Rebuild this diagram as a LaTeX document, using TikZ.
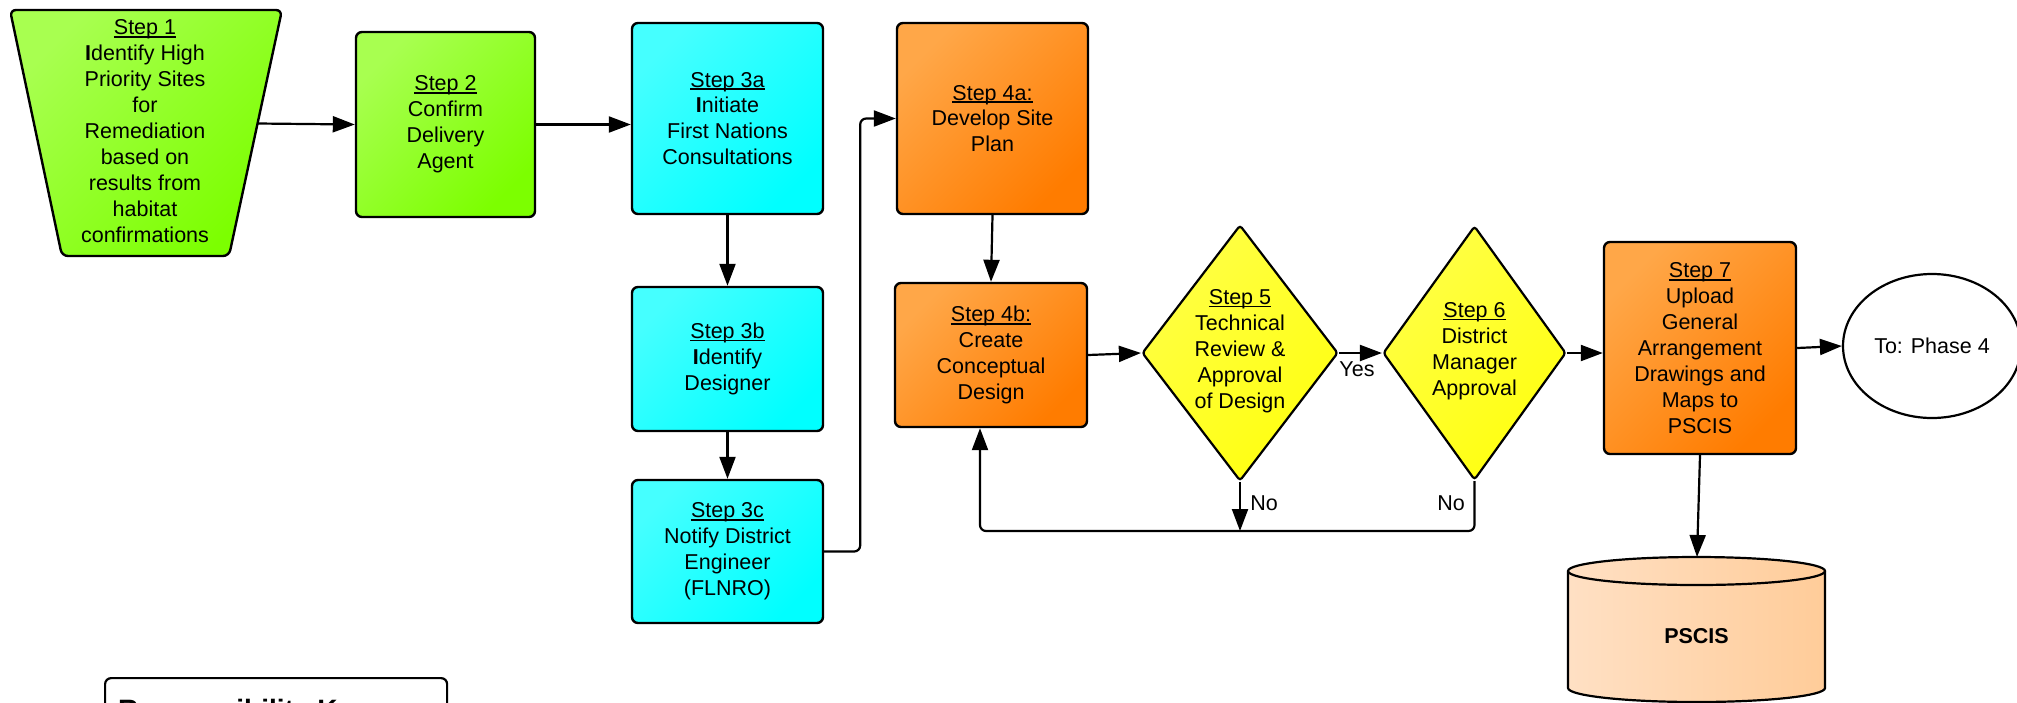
\documentclass[tikz,border=0pt]{standalone}
\usepackage{fontspec}
\setmainfont{Liberation Sans}
\usetikzlibrary{arrows.meta,shapes.geometric}
\definecolor{gA}{HTML}{A8FF50}
\definecolor{gB}{HTML}{7CFF00}
\definecolor{cA}{HTML}{45FFFF}
\definecolor{cB}{HTML}{00FFFF}
\definecolor{oA}{HTML}{FFA748}
\definecolor{oB}{HTML}{FF7C00}
\definecolor{yA}{HTML}{FFFF45}
\definecolor{yB}{HTML}{FFFF10}
\definecolor{pA}{HTML}{FFE0C4}
\definecolor{pB}{HTML}{FFCC99}
\newcommand\stepul[1]{\setbox0\hbox{#1}\rlap{\rule[-2.8pt]{\wd0}{1.4pt}}\box0}
\tikzset{
  txt/.style={font=\fontsize{21.5}{25.9}\selectfont, align=center, inner sep=0pt},
  box/.style={txt, draw, line width=2.4pt, rounded corners=6pt},
  grn/.style={top color=gA, bottom color=gB, shading angle=45},
  cyn/.style={top color=cA, bottom color=cB, shading angle=45},
  org/.style={top color=oA, bottom color=oB, shading angle=45},
  ylw/.style={top color=yA, bottom color=yB, shading angle=45},
  dia/.style={diamond, draw, line width=2.2pt, rounded corners=3pt, inner sep=0pt, ylw},
  arr/.style={line width=2.2pt, -{Triangle[length=22pt,width=16pt]}},
  lbl/.style={txt}
}
\begin{document}
\begin{tikzpicture}[x=1pt,y=-1pt]
\useasboundingbox (0,0) rectangle (2017,702);

% Step 1 trapezoid
\path[draw, line width=2.4pt, rounded corners=6pt, grn] (10,10) -- (282,10) -- (229,256) -- (62,256) -- cycle;
\node[txt] (s1) at (145,131) {\stepul{Step 1}\\\textbf{I}dentify High\\Priority Sites\\for\\Remediation\\based on\\results from\\habitat\\confirmations};
\coordinate (s1out) at (257.5,123.5);

% Step 2
\node[box, grn, minimum width=179pt, minimum height=185pt] (s2) at (445.5,124.5) {\stepul{Step 2}\\Confirm\\Delivery\\Agent};

% Step 3a,b,c
\node[box, cyn, minimum width=191pt, minimum height=191pt] (s3a) at (727.5,118.5) {\stepul{Step 3a}\\\textbf{I}nitiate\\First Nations\\Consultations};
\node[box, cyn, minimum width=191pt, minimum height=144pt] (s3b) at (727.5,359) {\stepul{Step 3b}\\\textbf{I}dentify\\Designer};
\node[box, cyn, minimum width=191pt, minimum height=143pt] (s3c) at (727.5,551.5) {\stepul{Step 3c}\\Notify District\\Engineer\\(FLNRO)};

% Step 4a,b
\node[box, org, minimum width=191pt, minimum height=191pt] (s4a) at (992.5,118.5) {\stepul{Step 4a:}\\Develop Site\\Plan};
\node[box, org, minimum width=192pt, minimum height=144pt] (s4b) at (991,355) {\stepul{Step 4b:}\\Create\\Conceptual\\Design};

% Step 5, 6 diamonds
\node[dia, minimum width=196pt, minimum height=256pt] (s5) at (1240,353) {};
\node[txt] (s5t) at (1240,351) {\stepul{Step 5}\\Technical\\Review \&\\Approval\\of Design};
\node[dia, minimum width=183pt, minimum height=254pt] (s6) at (1474.5,353) {};
\node[txt] (s6t) at (1474.5,351) {\stepul{Step 6}\\District\\Manager\\Approval};

% Step 7
\node[box, org, minimum width=192pt, minimum height=212pt] (s7) at (1700,348) {\stepul{Step 7}\\Upload\\General\\Arrangement\\Drawings and\\Maps to\\PSCIS};

% To: Phase 4
\node[txt, ellipse, draw, line width=2.2pt, fill=white, minimum width=178pt, minimum height=144pt] (ph4) at (1932,346) {To: Phase 4};

% PSCIS cylinder
\path[draw, line width=2.2pt, left color=pA, right color=pB]
  (1568,571) -- (1568,688) arc[start angle=180, end angle=0, x radius=128.5, y radius=14]
  -- (1825,571) arc[start angle=0, end angle=-180, x radius=128.5, y radius=14] -- cycle;
\draw[line width=2.2pt] (1568,571) arc[start angle=180, end angle=0, x radius=128.5, y radius=14];
\node[txt, font=\fontsize{21.5}{25.9}\selectfont\bfseries] (pscis) at (1696.5,636) {PSCIS};
\coordinate (pstop) at (1697,557);

% Responsibility key (cut by the page edge, as in the reference)
\node[draw, line width=2.2pt, rounded corners=6pt, anchor=north west, minimum width=342pt, minimum height=120pt] (key) at (104,677) {};
\node[anchor=base west, inner sep=0pt, font=\fontsize{28}{32}\selectfont\bfseries] (keyt) at (118,719) {Responsibility Key};

% connectors
\draw[arr] (s1out) -- (s2.west);
\draw[arr] (s2.east) -- (s3a.west |- s2.east);
\draw[arr] (s3a.south) -- (s3b.north);
\draw[arr] (s3b.south) -- (s3c.north);
\draw[arr, rounded corners=6pt] (s3c.east) -- ++(36,0) |- (s4a.west);
\draw[arr] (s4a.south) -- (s4b.north);
\draw[arr] (s4b.east) -- (s5.west);
\draw[arr] (s5.east) -- (s6.west);
\draw[arr] (s6.east) -- (s7.west |- s6.east);
\draw[arr] (s7.east) -- (ph4.west);
\draw[arr] (s7.south) -- (pstop);

\coordinate (lp) at (1474.5,531);
\draw[arr, rounded corners=6pt] (s6.south) -- (lp) -| ([xshift=-11pt]s4b.south);
\draw[arr] (s5.south) -- (s5.south |- lp);

\node[lbl] (yes) at (1357,369) {Yes};
\node[lbl] (no1) at (1264,503) {No};
\node[lbl] (no2) at (1451,503) {No};
\end{tikzpicture}
\end{document}
